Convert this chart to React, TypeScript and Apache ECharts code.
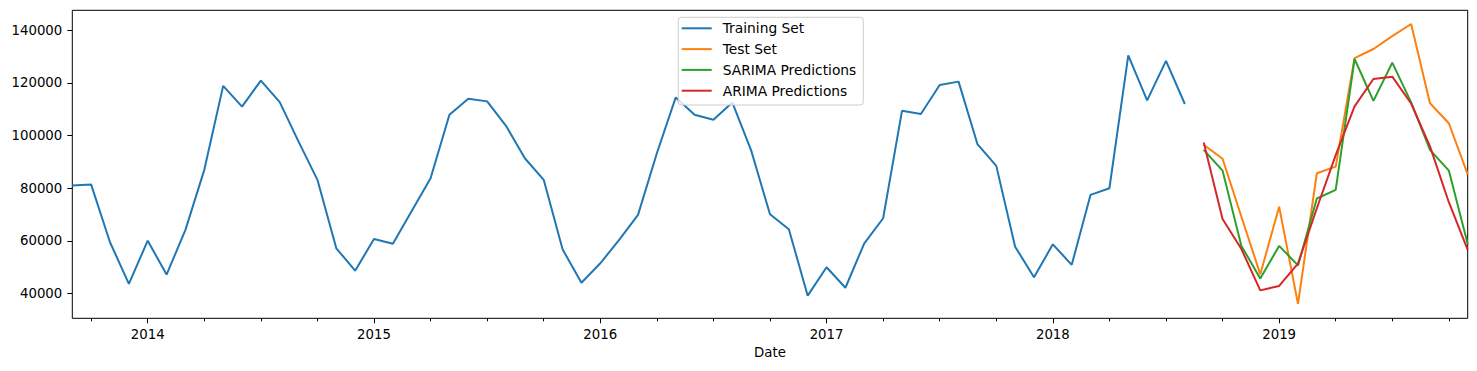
import React, { useEffect, useRef } from "react";
import * as echarts from "echarts";

const months: string[] = [
  "2013-09", "2013-10", "2013-11", "2013-12",
  "2014-01", "2014-02", "2014-03", "2014-04", "2014-05", "2014-06", "2014-07", "2014-08", "2014-09", "2014-10", "2014-11", "2014-12",
  "2015-01", "2015-02", "2015-03", "2015-04", "2015-05", "2015-06", "2015-07", "2015-08", "2015-09", "2015-10", "2015-11", "2015-12",
  "2016-01", "2016-02", "2016-03", "2016-04", "2016-05", "2016-06", "2016-07", "2016-08", "2016-09", "2016-10", "2016-11", "2016-12",
  "2017-01", "2017-02", "2017-03", "2017-04", "2017-05", "2017-06", "2017-07", "2017-08", "2017-09", "2017-10", "2017-11", "2017-12",
  "2018-01", "2018-02", "2018-03", "2018-04", "2018-05", "2018-06", "2018-07", "2018-08", "2018-09", "2018-10", "2018-11", "2018-12",
  "2019-01", "2019-02", "2019-03", "2019-04", "2019-05", "2019-06", "2019-07", "2019-08", "2019-09", "2019-10", "2019-11",
];

const trainingSet: number[] = [
  81000, 81400, 59500, 43700,
  60100, 47200, 64200, 87000, 118900, 111000, 120900, 112700, 97700, 83200, 57200, 48700,
  60700, 58900, 71400, 83800, 107900, 114000, 113000, 103700, 91400, 83200, 56800, 44100,
  51500, 60400, 69900, 93300, 114500, 107900, 106000, 112600, 94400, 70100, 64400, 39200,
  50000, 42200, 59100, 68600, 109400, 108200, 119200, 120500, 96800, 88500, 57800, 46200,
  58700, 50900, 77500, 80000, 130500, 113400, 128400, 112000,
];

const testSet: number[] = [
  96500, 91200, 69200, 47300, 73000, 36100, 85700, 88200, 129400, 132900, 137800, 142400, 112300, 104700, 85300,
];

const sarimaPredictions: number[] = [
  94600, 86700, 58100, 45700, 58100, 50700, 76100, 79400, 129100, 113200, 127700, 112600, 94600, 86700, 58800,
];

const arimaPredictions: number[] = [
  97400, 68300, 56900, 41200, 42900, 51400, 72400, 92600, 111100, 121500, 122400, 112200, 95900, 74700, 56600,
];

const yTickValues: number[] = [40000, 60000, 80000, 100000, 120000, 140000];
const yRange: number[] = [30600, 147600];

const seriesNames = ["Training Set", "Test Set", "SARIMA Predictions", "ARIMA Predictions"];
const seriesColors = ["#1f77b4", "#ff7f0e", "#2ca02c", "#d62728"];

function placeAt(values: number[], start: number, total: number): (number | null)[] {
  const out: (number | null)[] = [];
  for (let i = 0; i < total; i++) {
    const j = i - start;
    out.push(j >= 0 && j < values.length ? values[j] : null);
  }
  return out;
}

export default function App() {
  const ref = useRef<HTMLDivElement>(null);

  useEffect(() => {
    if (!ref.current) return;
    const chart = echarts.init(ref.current, undefined, { renderer: "svg" });
    const n = months.length;
    const testStart = n - testSet.length;
    const seriesData = [
      placeAt(trainingSet, 0, n),
      placeAt(testSet, testStart, n),
      placeAt(sarimaPredictions, testStart, n),
      placeAt(arimaPredictions, testStart, n),
    ];
    const font = "DejaVu Sans";
    const fsAxis = 13.3;
    const fsLegend = 13.8;
    const isJan = (_i: number, v: string) => v.endsWith("-01");
    const isQuarter = (_i: number, v: string) => /-(04|07|10)$/.test(v);

    chart.setOption({
      animation: false,
      textStyle: { fontFamily: font },
      grid: {
        left: 72.3,
        right: 9.3,
        top: 10.3,
        bottom: 52.7,
        show: true,
        borderColor: "#000",
        borderWidth: 1,
        backgroundColor: "transparent",
      },
      legend: {
        data: seriesNames,
        orient: "vertical",
        left: 678.3,
        top: 17.3,
        icon: "rect",
        itemWidth: 30,
        itemHeight: 2,
        itemGap: 5.2,
        textStyle: {
          fontSize: fsLegend,
          color: "#000",
          lineHeight: 15.6,
          fontFamily: font,
          padding: [0, 0, 0, 6],
        },
        backgroundColor: "rgba(255,255,255,0.8)",
        borderColor: "#cccccc",
        borderWidth: 1,
        borderRadius: 3,
        padding: [3.2, 7, 6.5, 3.4],
      },
      xAxis: [
        {
          type: "category",
          position: "bottom",
          data: months,
          boundaryGap: false,
          axisLine: { show: false },
          axisTick: {
            show: true,
            interval: isJan,
            length: 5,
            lineStyle: { color: "#000", width: 1 },
          },
          axisLabel: {
            interval: isJan,
            formatter: (v: string) => v.slice(0, 4),
            color: "#000",
            fontSize: fsAxis,
            margin: 10,
            fontFamily: font,
          },
          splitLine: { show: false },
          name: "Date",
          nameLocation: "middle",
          nameGap: 27,
          nameTextStyle: { color: "#000", fontSize: fsAxis, fontFamily: font },
        },
        {
          type: "category",
          position: "bottom",
          data: months,
          boundaryGap: false,
          axisLine: { show: false },
          axisTick: {
            show: true,
            interval: isQuarter,
            length: 3,
            lineStyle: { color: "#000", width: 1 },
          },
          axisLabel: { show: false },
          splitLine: { show: false },
        },
      ],
      yAxis: {
        type: "value",
        min: yRange[0],
        max: yRange[1],
        axisLine: { show: false },
        splitLine: { show: false },
        axisTick: {
          show: true,
          length: 5,
          lineStyle: { color: "#000", width: 1 },
          customValues: yTickValues,
        },
        axisLabel: {
          color: "#000",
          fontSize: fsAxis,
          margin: 10,
          fontFamily: font,
          customValues: yTickValues,
          formatter: (v: number) => String(v),
        },
      },
      series: seriesNames.map((name, k) => ({
        name,
        type: "line",
        xAxisIndex: 0,
        data: seriesData[k],
        symbol: "none",
        showSymbol: false,
        connectNulls: false,
        color: seriesColors[k],
        lineStyle: { color: seriesColors[k], width: 2 },
        itemStyle: { color: seriesColors[k] },
        z: 2 + k,
      })),
    });

    return () => chart.dispose();
  }, []);

  return (
    <div
      ref={ref}
      style={{ position: "fixed", left: 0, top: 0, width: 1477, height: 371, background: "#fff" }}
    />
  );
}
